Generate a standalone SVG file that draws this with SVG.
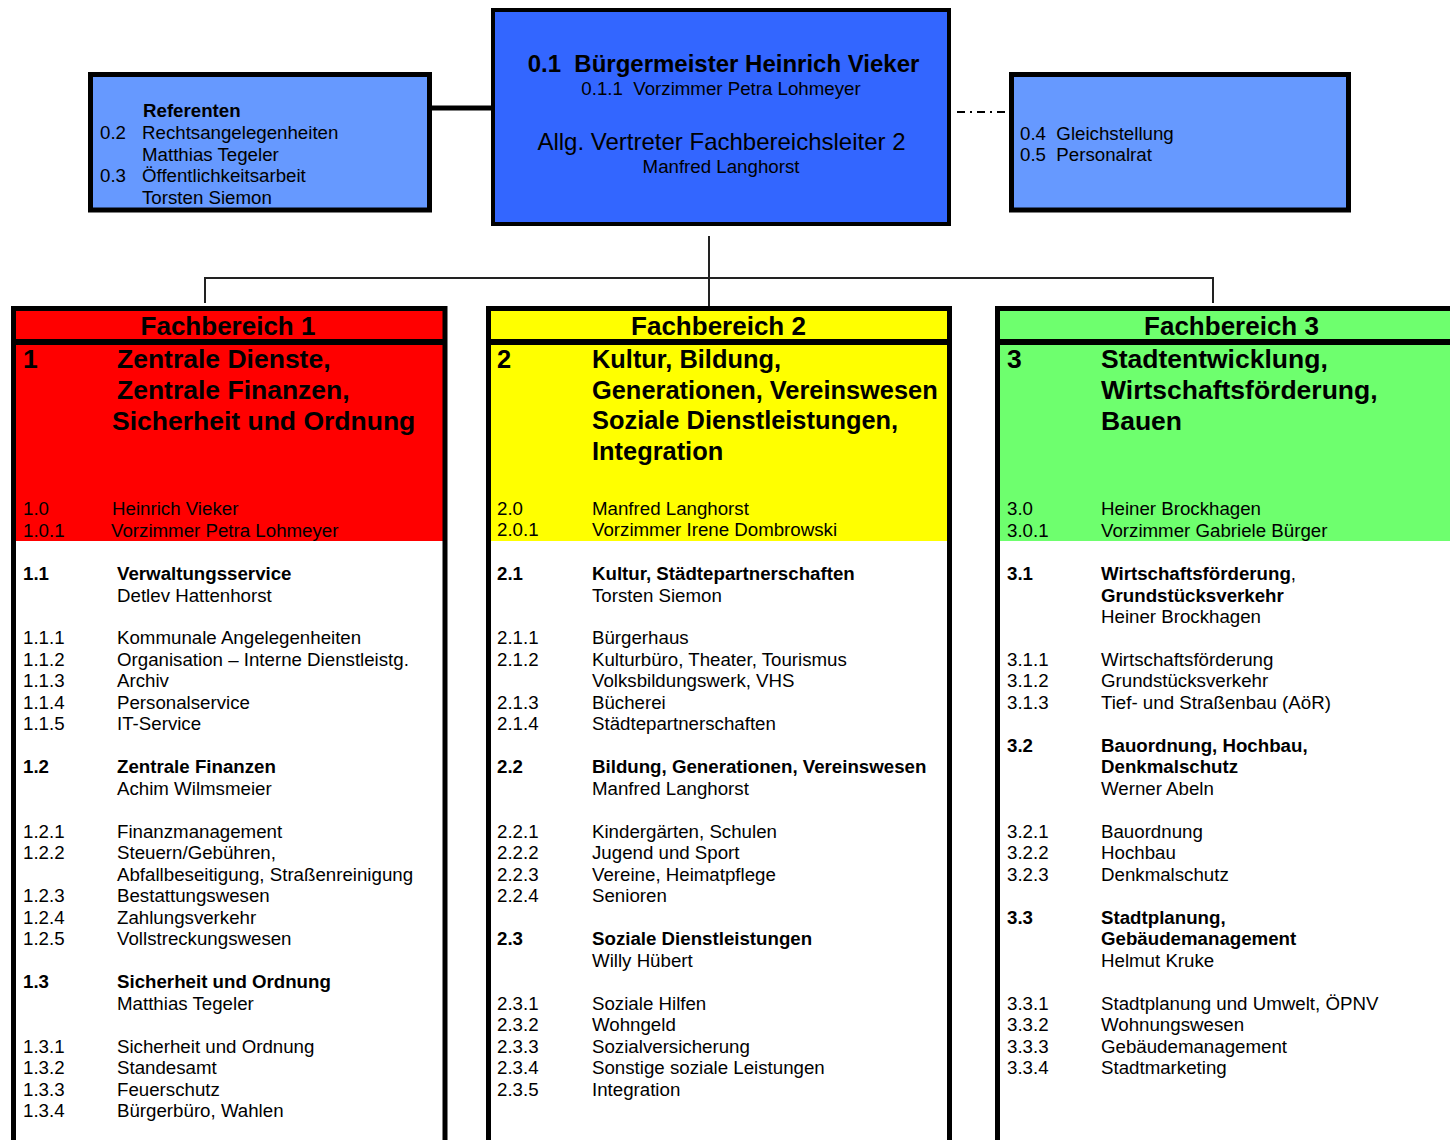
<svg xmlns="http://www.w3.org/2000/svg" width="1450" height="1140" viewBox="0 0 1450 1140">
<style>
text{font-family:"Liberation Sans",Arial,sans-serif;fill:#000}
.t{font-size:18.7px}
.b{font-size:18.7px;font-weight:bold}
.hd{font-size:26px;font-weight:bold;text-anchor:middle}
.ti{font-size:26.5px;font-weight:bold}
.ti2{font-size:25.4px;font-weight:bold}
.c{text-anchor:middle}
.box{stroke:#000;stroke-width:5}
.col{fill:none;stroke:#000;stroke-width:5}
.ln{stroke:#222;stroke-width:2;fill:none}
</style>
<rect width="1450" height="1140" fill="#fff"/>
<g id="connectors">
<line x1="430" y1="108" x2="493" y2="108" stroke="#000" stroke-width="5"/>
<line x1="957" y1="112" x2="1009" y2="112" stroke="#000" stroke-width="2" stroke-dasharray="8,5,2,5"/>
<polyline class="ln" points="205,303 205,278 1213,278 1213,303"/>
<line class="ln" x1="709" y1="236" x2="709" y2="316"/>
</g>
<g id="referenten">
<rect class="box" x="90.5" y="74.5" width="339" height="135.5" fill="#6699FF"/>
<text class="b" x="143" y="117">Referenten</text>
<text class="t" y="139"><tspan x="100">0.2</tspan><tspan x="142">Rechtsangelegenheiten</tspan></text>
<text class="t" x="142" y="160.5">Matthias Tegeler</text>
<text class="t" y="182"><tspan x="100">0.3</tspan><tspan x="142">Öffentlichkeitsarbeit</tspan></text>
<text class="t" x="142" y="203.5">Torsten Siemon</text>
</g>
<g id="buergermeister">
<rect x="493" y="10" width="456" height="214" fill="#3366FF" stroke="#000" stroke-width="4"/>
<text class="c" x="723.5" y="72" style="font-size:24px;font-weight:bold" xml:space="preserve">0.1  Bürgermeister Heinrich Vieker</text>
<text class="t c" x="721" y="95" xml:space="preserve">0.1.1  Vorzimmer Petra Lohmeyer</text>
<text class="c" x="721.5" y="150" style="font-size:24px">Allg. Vertreter Fachbereichsleiter 2</text>
<text class="t c" x="721" y="173">Manfred Langhorst</text>
</g>
<g id="gleichstellung">
<rect class="box" x="1011.5" y="74.5" width="337" height="135.5" fill="#6699FF"/>
<text class="t" y="139.5" xml:space="preserve"><tspan x="1020">0.4  Gleichstellung</tspan></text>
<text class="t" y="161" xml:space="preserve"><tspan x="1020">0.5  Personalrat</tspan></text>
</g>
<g id="fb1">
<rect x="16" y="311" width="427" height="28" fill="#FF0000"/>
<rect x="16" y="345" width="427" height="196" fill="#FF0000"/>
<rect class="col" x="13.5" y="308.5" width="431.5" height="900"/>
<line x1="16" y1="342" x2="443" y2="342" stroke="#000" stroke-width="6"/>
<text class="hd" x="228" y="335">Fachbereich 1</text>
<text class="ti" x="23" y="368">1</text>
<text class="ti" x="117" y="368">Zentrale Dienste,</text>
<text class="ti" x="117" y="399">Zentrale Finanzen,</text>
<text class="ti" x="112" y="430">Sicherheit und Ordnung</text>
<text class="t" y="515" fill="#200000"><tspan x="23">1.0</tspan><tspan x="112">Heinrich Vieker</tspan></text>
<text class="t" y="536.5" fill="#200000"><tspan x="23">1.0.1</tspan><tspan x="111">Vorzimmer Petra Lohmeyer</tspan></text>
<text class="b" y="580"><tspan x="23">1.1</tspan><tspan x="117">Verwaltungsservice</tspan></text>
<text class="t" x="117" y="601.5">Detlev Hattenhorst</text>
<text class="t" y="644.4"><tspan x="23">1.1.1</tspan><tspan x="117">Kommunale Angelegenheiten</tspan></text>
<text class="t" y="665.9"><tspan x="23">1.1.2</tspan><tspan x="117">Organisation – Interne Dienstleistg.</tspan></text>
<text class="t" y="687.4"><tspan x="23">1.1.3</tspan><tspan x="117">Archiv</tspan></text>
<text class="t" y="708.9"><tspan x="23">1.1.4</tspan><tspan x="117">Personalservice</tspan></text>
<text class="t" y="730.4"><tspan x="23">1.1.5</tspan><tspan x="117">IT-Service</tspan></text>
<text class="b" y="773.3"><tspan x="23">1.2</tspan><tspan x="117">Zentrale Finanzen</tspan></text>
<text class="t" x="117" y="794.8">Achim Wilmsmeier</text>
<text class="t" y="837.8"><tspan x="23">1.2.1</tspan><tspan x="117">Finanzmanagement</tspan></text>
<text class="t" y="859.2"><tspan x="23">1.2.2</tspan><tspan x="117">Steuern/Gebühren,</tspan></text>
<text class="t" x="117" y="880.7">Abfallbeseitigung, Straßenreinigung</text>
<text class="t" y="902.2"><tspan x="23">1.2.3</tspan><tspan x="117">Bestattungswesen</tspan></text>
<text class="t" y="923.7"><tspan x="23">1.2.4</tspan><tspan x="117">Zahlungsverkehr</tspan></text>
<text class="t" y="945.2"><tspan x="23">1.2.5</tspan><tspan x="117">Vollstreckungswesen</tspan></text>
<text class="b" y="988.1"><tspan x="23">1.3</tspan><tspan x="117">Sicherheit und Ordnung</tspan></text>
<text class="t" x="117" y="1009.6">Matthias Tegeler</text>
<text class="t" y="1052.6"><tspan x="23">1.3.1</tspan><tspan x="117">Sicherheit und Ordnung</tspan></text>
<text class="t" y="1074"><tspan x="23">1.3.2</tspan><tspan x="117">Standesamt</tspan></text>
<text class="t" y="1095.5"><tspan x="23">1.3.3</tspan><tspan x="117">Feuerschutz</tspan></text>
<text class="t" y="1117"><tspan x="23">1.3.4</tspan><tspan x="117">Bürgerbüro, Wahlen</tspan></text>
</g>
<g id="fb2">
<rect x="491" y="311" width="456" height="28" fill="#FFFF00"/>
<rect x="491" y="345" width="456" height="196" fill="#FFFF00"/>
<rect class="col" x="488.5" y="308.5" width="461" height="900"/>
<line x1="491" y1="342" x2="947" y2="342" stroke="#000" stroke-width="6"/>
<text class="hd" x="718.5" y="335">Fachbereich 2</text>
<text class="ti2" x="497" y="368">2</text>
<text class="ti2" x="592" y="368">Kultur, Bildung,</text>
<text class="ti2" x="592" y="399">Generationen, Vereinswesen</text>
<text class="ti2" x="592" y="429">Soziale Dienstleistungen,</text>
<text class="ti2" x="592" y="460">Integration</text>
<text class="t" y="514.5"><tspan x="497">2.0</tspan><tspan x="592">Manfred Langhorst</tspan></text>
<text class="t" y="536"><tspan x="497">2.0.1</tspan><tspan x="592">Vorzimmer Irene Dombrowski</tspan></text>
<text class="b" y="580"><tspan x="497">2.1</tspan><tspan x="592">Kultur, Städtepartnerschaften</tspan></text>
<text class="t" x="592" y="601.5">Torsten Siemon</text>
<text class="t" y="644.4"><tspan x="497">2.1.1</tspan><tspan x="592">Bürgerhaus</tspan></text>
<text class="t" y="665.9"><tspan x="497">2.1.2</tspan><tspan x="592">Kulturbüro, Theater, Tourismus</tspan></text>
<text class="t" x="592" y="687.4">Volksbildungswerk, VHS</text>
<text class="t" y="708.9"><tspan x="497">2.1.3</tspan><tspan x="592">Bücherei</tspan></text>
<text class="t" y="730.4"><tspan x="497">2.1.4</tspan><tspan x="592">Städtepartnerschaften</tspan></text>
<text class="b" y="773.3"><tspan x="497">2.2</tspan><tspan x="592">Bildung, Generationen, Vereinswesen</tspan></text>
<text class="t" x="592" y="794.8">Manfred Langhorst</text>
<text class="t" y="837.8"><tspan x="497">2.2.1</tspan><tspan x="592">Kindergärten, Schulen</tspan></text>
<text class="t" y="859.2"><tspan x="497">2.2.2</tspan><tspan x="592">Jugend und Sport</tspan></text>
<text class="t" y="880.7"><tspan x="497">2.2.3</tspan><tspan x="592">Vereine, Heimatpflege</tspan></text>
<text class="t" y="902.2"><tspan x="497">2.2.4</tspan><tspan x="592">Senioren</tspan></text>
<text class="b" y="945.2"><tspan x="497">2.3</tspan><tspan x="592">Soziale Dienstleistungen</tspan></text>
<text class="t" x="592" y="966.6">Willy Hübert</text>
<text class="t" y="1009.6"><tspan x="497">2.3.1</tspan><tspan x="592">Soziale Hilfen</tspan></text>
<text class="t" y="1031.1"><tspan x="497">2.3.2</tspan><tspan x="592">Wohngeld</tspan></text>
<text class="t" y="1052.6"><tspan x="497">2.3.3</tspan><tspan x="592">Sozialversicherung</tspan></text>
<text class="t" y="1074"><tspan x="497">2.3.4</tspan><tspan x="592">Sonstige soziale Leistungen</tspan></text>
<text class="t" y="1095.5"><tspan x="497">2.3.5</tspan><tspan x="592">Integration</tspan></text>
</g>
<g id="fb3">
<rect x="1000" y="311" width="460" height="28" fill="#6EFF6E"/>
<rect x="1000" y="345" width="460" height="196" fill="#6EFF6E"/>
<rect class="col" x="997.5" y="308.5" width="500" height="900"/>
<line x1="1000" y1="342" x2="1460" y2="342" stroke="#000" stroke-width="6"/>
<text class="hd" x="1231.5" y="335">Fachbereich 3</text>
<text class="ti" x="1007" y="368">3</text>
<text class="ti" x="1101" y="368">Stadtentwicklung,</text>
<text class="ti" x="1101" y="399">Wirtschaftsförderung,</text>
<text class="ti" x="1101" y="430">Bauen</text>
<text class="t" y="515"><tspan x="1007">3.0</tspan><tspan x="1101">Heiner Brockhagen</tspan></text>
<text class="t" y="536.5"><tspan x="1007">3.0.1</tspan><tspan x="1101">Vorzimmer Gabriele Bürger</tspan></text>
<text class="t" y="580"><tspan x="1007" font-weight="bold">3.1</tspan><tspan x="1101" font-weight="bold">Wirtschaftsförderung</tspan>,</text>
<text class="b" x="1101" y="601.5">Grundstücksverkehr</text>
<text class="t" x="1101" y="623">Heiner Brockhagen</text>
<text class="t" y="665.9"><tspan x="1007">3.1.1</tspan><tspan x="1101">Wirtschaftsförderung</tspan></text>
<text class="t" y="687.4"><tspan x="1007">3.1.2</tspan><tspan x="1101">Grundstücksverkehr</tspan></text>
<text class="t" y="708.9"><tspan x="1007">3.1.3</tspan><tspan x="1101">Tief- und Straßenbau (AöR)</tspan></text>
<text class="b" y="751.8"><tspan x="1007">3.2</tspan><tspan x="1101">Bauordnung, Hochbau,</tspan></text>
<text class="b" x="1101" y="773.3">Denkmalschutz</text>
<text class="t" x="1101" y="794.8">Werner Abeln</text>
<text class="t" y="837.8"><tspan x="1007">3.2.1</tspan><tspan x="1101">Bauordnung</tspan></text>
<text class="t" y="859.2"><tspan x="1007">3.2.2</tspan><tspan x="1101">Hochbau</tspan></text>
<text class="t" y="880.7"><tspan x="1007">3.2.3</tspan><tspan x="1101">Denkmalschutz</tspan></text>
<text class="b" y="923.7"><tspan x="1007">3.3</tspan><tspan x="1101">Stadtplanung,</tspan></text>
<text class="b" x="1101" y="945.2">Gebäudemanagement</text>
<text class="t" x="1101" y="966.6">Helmut Kruke</text>
<text class="t" y="1009.6"><tspan x="1007">3.3.1</tspan><tspan x="1101">Stadtplanung und Umwelt, ÖPNV</tspan></text>
<text class="t" y="1031.1"><tspan x="1007">3.3.2</tspan><tspan x="1101">Wohnungswesen</tspan></text>
<text class="t" y="1052.6"><tspan x="1007">3.3.3</tspan><tspan x="1101">Gebäudemanagement</tspan></text>
<text class="t" y="1074"><tspan x="1007">3.3.4</tspan><tspan x="1101">Stadtmarketing</tspan></text>
</g>
</svg>
